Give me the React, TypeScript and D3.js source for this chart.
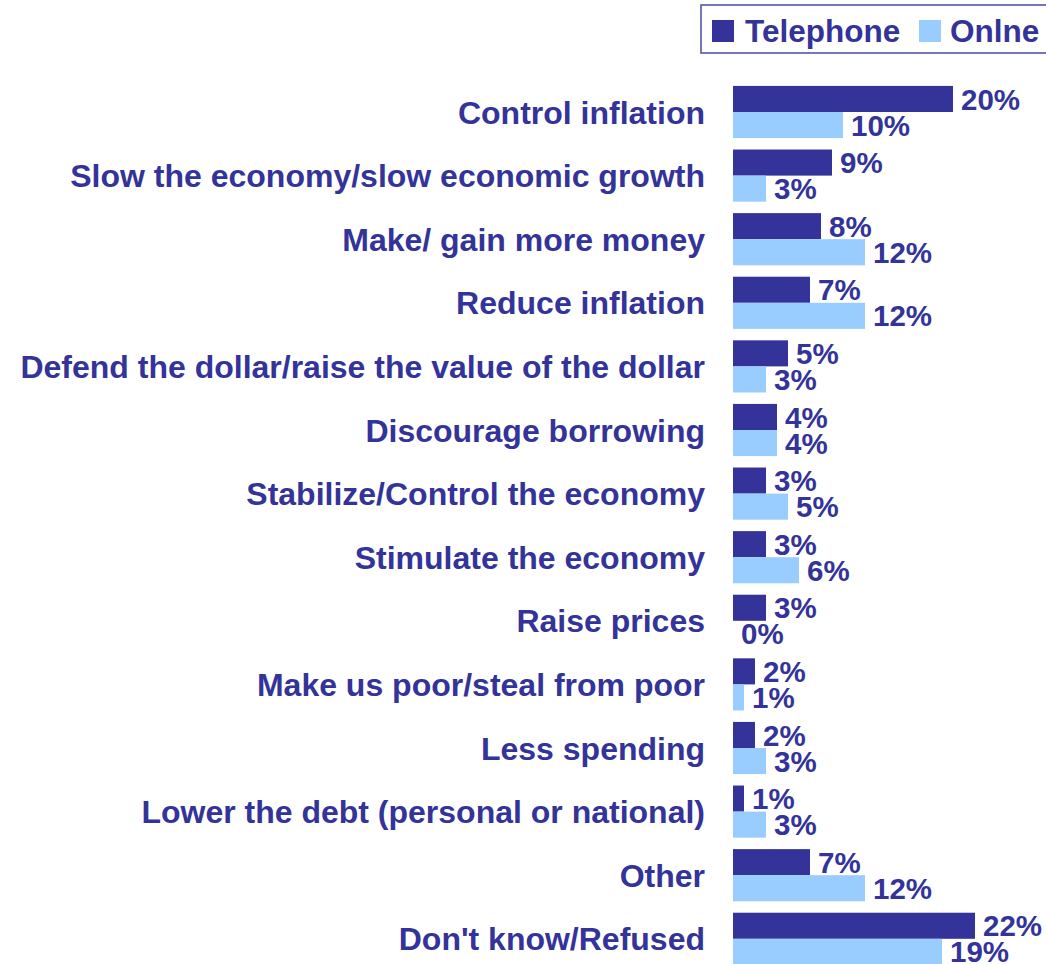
import React from "react";
import * as d3 from "d3";

const categories = [
  "Control inflation",
  "Slow the economy/slow economic growth",
  "Make/ gain more money",
  "Reduce inflation",
  "Defend the dollar/raise the value of the dollar",
  "Discourage borrowing",
  "Stabilize/Control the economy",
  "Stimulate the economy",
  "Raise prices",
  "Make us poor/steal from poor",
  "Less spending",
  "Lower the debt (personal or national)",
  "Other",
  "Don't know/Refused",
];

const telephone = [20, 9, 8, 7, 5, 4, 3, 3, 3, 2, 2, 1, 7, 22];
const online = [10, 3, 12, 12, 3, 4, 5, 6, 0, 1, 3, 3, 12, 19];

const seriesNames = ["Telephone", "Online"];
const legendLabels = ["Telephone", "Onlne"];
const seriesColors = ["#333399", "#99CCFF"];

const W = 1046;
const H = 964;
const TEXT = "#333399";
const FONT = "'Liberation Sans', Arial, Helvetica, sans-serif";

export default function App() {
  const y = d3
    .scaleBand<string>()
    .domain(categories)
    .range([80.2, 970.6])
    .paddingInner(0.18)
    .paddingOuter(0.09);

  const ySub = d3
    .scaleBand<string>()
    .domain(seriesNames)
    .range([0, y.bandwidth()]);

  const x = d3.scaleLinear().domain([0, 22]).range([733, 975]);

  const series = [telephone, online];

  return (
    <svg
      width={W}
      height={H}
      style={{ position: "absolute", left: 0, top: 0, background: "#fff" }}
      fontFamily={FONT}
      fontWeight="bold"
    >
      {/* legend */}
      <g>
        <rect x={701} y={5} width={360} height={48} fill="#fff" stroke="#4a4aa6" strokeWidth={1.5} />
        <rect x={712} y={20} width={22} height={22} fill={seriesColors[0]} />
        <text x={745} y={42} fontSize={31.5} fill={TEXT}>
          {legendLabels[0]}
        </text>
        <rect x={919} y={20} width={22} height={22} fill={seriesColors[1]} />
        <text x={950} y={42} fontSize={31.5} fill={TEXT}>
          {legendLabels[1]}
        </text>
      </g>

      {categories.map((c, i) => {
        const y0 = y(c) as number;
        const mid = y0 + y.bandwidth() / 2;
        return (
          <g key={c}>
            <text
              x={705}
              y={mid}
              dy="0.36em"
              textAnchor="end"
              fontSize={32}
              fill={TEXT}
            >
              {c}
            </text>
            {seriesNames.map((s, j) => {
              const v = series[j][i];
              const by = y0 + (ySub(s) as number);
              const bh = ySub.bandwidth();
              return (
                <g key={s}>
                  <rect
                    x={x(0)}
                    y={by}
                    width={x(v) - x(0)}
                    height={bh}
                    fill={seriesColors[j]}
                  />
                  <text
                    x={x(v) + 8}
                    y={by + bh / 2}
                    dy="0.36em"
                    fontSize={29.5}
                    fill={TEXT}
                  >
                    {v}%
                  </text>
                </g>
              );
            })}
          </g>
        );
      })}
    </svg>
  );
}
